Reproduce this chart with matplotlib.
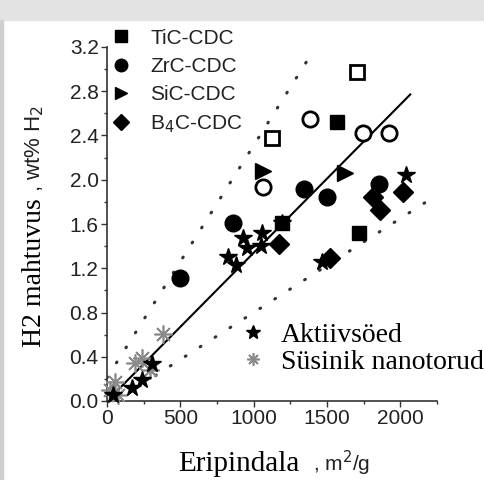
import matplotlib
matplotlib.use("Agg")
import matplotlib.pyplot as plt
import numpy as np
from matplotlib.lines import Line2D
from matplotlib.patches import Rectangle
from matplotlib.ticker import MultipleLocator

# data (surface area m2/g, H2 uptake wt%)
tic_x = [1570, 1720, 1195]
tic_y = [2.52, 1.52, 1.61]
tic_open_x = [1706, 1126]
tic_open_y = [2.97, 2.38]
zrc_x = [498, 860, 1345, 1500, 1857]
zrc_y = [1.11, 1.61, 1.92, 1.84, 1.96]
zrc_open_x = [1386, 1747, 1925, 1065]
zrc_open_y = [2.55, 2.42, 2.42, 1.93]
sic_x = [1065, 1625]
sic_y = [2.08, 2.06]
b4c_x = [1174, 1522, 1816, 1863, 2020]
b4c_y = [1.42, 1.29, 1.84, 1.73, 1.89]
ac_x = [41, 170, 239, 307, 826, 880, 928, 956, 1051, 1058, 1195, 1468, 2040]
ac_y = [0.05, 0.12, 0.19, 0.33, 1.30, 1.23, 1.47, 1.38, 1.40, 1.52, 1.61, 1.26, 2.04]
cnt_x = [20, 55, 75, 191, 239, 293, 382]
cnt_y = [0.10, 0.17, 0.05, 0.34, 0.39, 0.28, 0.61]

# trend lines: slope, intercept, x start, x end
fit_line = (0.00134, 0.0, 20, 2068)
upper_line = (0.0021, 0.21, 0, 1390)
lower_line = (0.00085, -0.05, 330, 2260)

serif = "Liberation Serif"
sans = "Liberation Sans"

fig = plt.figure(figsize=(4.85, 4.8), dpi=100)
fig.patch.set_facecolor("white")
fig.patches.append(Rectangle((0, 1 - 20 / 480), 1, 20 / 480, transform=fig.transFigure,
                             color="#e3e3e3", zorder=-5))
fig.patches.append(Rectangle((0, 0), 3 / 485, 1 - 20 / 480, transform=fig.transFigure,
                             color="#cfcfcf", zorder=-5))

ax = fig.add_axes([107 / 485, 1 - 401 / 480, 330 / 485, 354 / 480])
ax.set_xlim(0, 2250)
ax.set_ylim(0, 3.2)
for s in ["top", "right"]:
    ax.spines[s].set_visible(False)
for s in ["left", "bottom"]:
    ax.spines[s].set_linewidth(1.2)
    ax.spines[s].set_color("#333333")

ax.xaxis.set_major_locator(MultipleLocator(500))
ax.xaxis.set_minor_locator(MultipleLocator(250))
ax.yaxis.set_major_locator(MultipleLocator(0.4))
ax.yaxis.set_minor_locator(MultipleLocator(0.2))
ax.yaxis.set_major_formatter(plt.FuncFormatter(lambda v, p: f"{v:.1f}"))
ax.tick_params(which="major", direction="out", length=4, width=1, color="#333333",
               labelsize=15, labelcolor="#222222", pad=2)
ax.tick_params(which="minor", direction="out", length=2.5, width=1, color="#333333")
for lab in ax.get_xticklabels() + ax.get_yticklabels():
    lab.set_family(sans)


def draw_line(params, **kw):
    k, b, x0, x1 = params
    xs = np.array([x0, x1])
    ax.plot(xs, k * xs + b, **kw)


draw_line(fit_line, color="black", lw=1.5, zorder=2)
draw_line(upper_line, color="#333333", lw=2.2, linestyle=(0, (0.3, 5.5)),
          dash_capstyle="round", zorder=2)
draw_line(lower_line, color="#333333", lw=2.2, linestyle=(0, (0.3, 5.5)),
          dash_capstyle="round", zorder=2)

ax.plot(cnt_x, cnt_y, ls="none", marker=(8, 2, 0), ms=13, mec="#8a8a8a", mew=1.2,
        zorder=3, clip_on=False)
ax.plot(tic_x, tic_y, ls="none", marker="s", ms=10, color="black", zorder=4)
ax.plot(tic_open_x, tic_open_y, ls="none", marker="s", ms=10, mfc="white",
        mec="black", mew=2, zorder=4)
ax.plot(zrc_x, zrc_y, ls="none", marker="o", ms=12, color="black", zorder=4)
ax.plot(zrc_open_x, zrc_open_y, ls="none", marker="o", ms=11, mfc="white",
        mec="black", mew=2, zorder=4)
ax.plot(sic_x, sic_y, ls="none", marker=">", ms=11, color="black", zorder=4)
ax.plot(b4c_x, b4c_y, ls="none", marker="D", ms=10, color="black", zorder=4)
ax.plot(ac_x, ac_y, ls="none", marker="*", ms=13, color="black", zorder=5, clip_on=False)

# legend for carbide derived carbons
h1 = [Line2D([], [], ls="none", marker="s", ms=8, color="black"),
      Line2D([], [], ls="none", marker="o", ms=9, color="black"),
      Line2D([], [], ls="none", marker=">", ms=9, color="black"),
      Line2D([], [], ls="none", marker="D", ms=8, color="black")]
leg1 = fig.legend(h1, ["TiC-CDC", "ZrC-CDC", "SiC-CDC", "B$_4$C-CDC"],
                  loc="upper left", bbox_to_anchor=(96 / 485, 1 - 14 / 480),
                  frameon=False, prop={"family": sans, "size": 15},
                  handlelength=1.0, handletextpad=0.9, labelspacing=0.45,
                  borderpad=0.2)
for t in leg1.get_texts():
    t.set_color("#222222")

h2 = [Line2D([], [], ls="none", marker="*", ms=10, color="black"),
      Line2D([], [], ls="none", marker=(8, 2, 0), ms=9, mec="#8a8a8a", mew=1.2)]
leg2 = fig.legend(h2, ["Aktiivsöed", "Süsinik nanotorud"],
                  loc="upper left", bbox_to_anchor=(220 / 485, 1 - 303 / 480),
                  frameon=False, prop={"family": serif, "size": 20},
                  handlelength=1.0, handletextpad=0.5, labelspacing=0.05,
                  borderpad=0.2)

# axis labels, mixed fonts as in the original
fig.text(35 / 485, 1 - 347 / 480, "H2 mahtuvus", rotation=90, family=serif,
         size=20, ha="center", va="bottom")
fig.text(35 / 485, 1 - 192 / 480, ", wt% H$_2$", rotation=90, family=sans,
         size=16, ha="center", va="bottom", color="#222222")
fig.text(178 / 485, 1 - 471 / 480, "Eripindala", family=serif, size=21,
         ha="left", va="baseline")
fig.text(313 / 485, 1 - 471 / 480, ", m$^2$/g", family=sans, size=15,
         ha="left", va="baseline", color="#222222")

fig.savefig("out.png", dpi=100)
